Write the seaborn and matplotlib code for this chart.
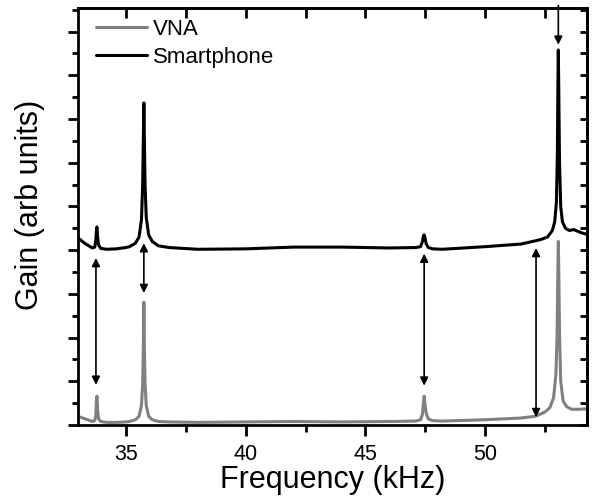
import numpy as np
import pandas as pd
import matplotlib
matplotlib.use('Agg')
import matplotlib.pyplot as plt
from matplotlib.ticker import MultipleLocator, NullFormatter
import seaborn as sns

# Frequency samples (kHz) and gains
vna_freq = [33.0, 33.3, 33.6, 33.7, 33.74, 33.77, 33.79, 33.82, 33.86, 33.95, 34.2, 34.6,
            35.0, 35.15, 35.4, 35.55, 35.65, 35.7, 35.73, 35.75, 35.77, 35.8, 35.85,
            35.95, 36.1, 36.35, 36.8, 38.0, 40.0, 42.0, 44.0, 46.0, 47.1, 47.3, 47.38,
            47.42, 47.45, 47.48, 47.53, 47.62, 47.8, 48.2, 50.0, 51.5, 52.1, 52.5, 52.7,
            52.85, 52.95, 53.0, 53.03, 53.05, 53.07, 53.1, 53.15, 53.25, 53.4, 53.6,
            53.9, 54.25]
vna_gain = [0.2, 0.14, 0.08, 0.1, 0.2, 0.55, 0.66, 0.35, 0.14, 0.08, 0.06, 0.06,
            0.07, 0.08, 0.12, 0.2, 0.45, 0.95, 1.85, 2.81, 1.85, 0.95, 0.45,
            0.2, 0.12, 0.08, 0.07, 0.06, 0.07, 0.08, 0.07, 0.08, 0.09, 0.12, 0.25,
            0.5, 0.66, 0.5, 0.28, 0.14, 0.1, 0.09, 0.12, 0.16, 0.2, 0.3, 0.4,
            0.62, 1.15, 2.1, 3.5, 4.2, 3.5, 2.1, 1.0, 0.55, 0.42, 0.36,
            0.36, 0.37]

phone_freq = [33.0, 33.3, 33.6, 33.7, 33.74, 33.77, 33.79, 33.82, 33.86, 33.95, 34.2, 34.6,
              35.0, 35.15, 35.4, 35.55, 35.65, 35.7, 35.73, 35.75, 35.77, 35.8, 35.85,
              35.95, 36.1, 36.35, 36.8, 38.0, 40.0, 42.0, 44.0, 46.0, 47.1, 47.3, 47.38,
              47.42, 47.45, 47.48, 47.53, 47.62, 47.8, 48.2, 50.0, 51.5, 52.3, 52.6, 52.8,
              52.9, 52.97, 53.01, 53.03, 53.05, 53.07, 53.1, 53.15, 53.22, 53.35, 53.5,
              53.7, 54.0, 54.25]
phone_gain = [4.28, 4.15, 4.05, 4.07, 4.2, 4.45, 4.53, 4.3, 4.12, 4.04, 4.02, 4.03,
              4.06, 4.08, 4.16, 4.3, 4.7, 5.5, 6.6, 7.37, 6.6, 5.5, 4.75,
              4.35, 4.2, 4.1, 4.06, 4.02, 4.03, 4.07, 4.07, 4.05, 4.06, 4.08, 4.2,
              4.33, 4.35, 4.3, 4.15, 4.06, 4.03, 4.02, 4.08, 4.14, 4.24, 4.3, 4.45,
              4.65, 5.1, 6.2, 7.6, 8.58, 7.6, 6.0, 5.0, 4.65, 4.5, 4.45,
              4.47, 4.4, 4.36]

# double arrows: (freq, top, bottom)
arrow_freq = [33.75, 35.75, 47.45, 52.12]
arrow_top = [3.82, 4.16, 3.92, 4.05]
arrow_bottom = [0.92, 3.02, 0.9, 0.18]

df = pd.concat([
    pd.DataFrame({'freq': vna_freq, 'gain': vna_gain, 'source': 'VNA'}),
    pd.DataFrame({'freq': phone_freq, 'gain': phone_gain, 'source': 'Smartphone'}),
])

sns.set_style('ticks')
plt.rcParams['font.family'] = ['Liberation Sans', 'DejaVu Sans']
plt.rcParams['axes.edgecolor'] = 'black'
plt.rcParams['xtick.color'] = 'black'
plt.rcParams['ytick.color'] = 'black'
plt.rcParams['text.color'] = 'black'
plt.rcParams['axes.labelcolor'] = 'black'

fig = plt.figure(figsize=(5.93, 5.0), dpi=100)
ax = fig.add_axes([0.1315, 0.15, 0.8585, 0.834])

sns.lineplot(data=df, x='freq', y='gain', hue='source',
             palette={'VNA': '#808080', 'Smartphone': '#000000'},
             linewidth=2.2, ax=ax, sort=True)

for f, t, b in zip(arrow_freq, arrow_top, arrow_bottom):
    ax.annotate('', xy=(f, b), xytext=(f, t),
                arrowprops=dict(arrowstyle='<|-|>', color='black', lw=1.2,
                                mutation_scale=12, shrinkA=0, shrinkB=0))
ax.annotate('', xy=(53.05, 8.7), xytext=(53.05, 9.6),
            arrowprops=dict(arrowstyle='-|>', color='black', lw=1.2,
                            mutation_scale=12, shrinkA=0, shrinkB=0))

ax.set_xlim(33.0, 54.25)
ax.set_ylim(0, 9.54)
ax.set_xlabel('Frequency (kHz)', fontsize=22, labelpad=0)
ax.set_ylabel('Gain (arb units)', fontsize=22)
ax.yaxis.set_label_coords(-0.065, 0.528)

ax.xaxis.set_major_locator(MultipleLocator(5))
ax.xaxis.set_minor_locator(MultipleLocator(2.5))
ax.yaxis.set_major_locator(MultipleLocator(1))
ax.yaxis.set_minor_locator(MultipleLocator(0.5))
ax.yaxis.set_major_formatter(NullFormatter())
ax.tick_params(axis='x', which='major', direction='out', length=8, width=2,
               labelsize=15.5, pad=6)
ax.tick_params(axis='x', which='minor', direction='out', length=5, width=2)
ax.tick_params(axis='y', which='major', direction='out', length=7, width=2)
ax.tick_params(axis='y', which='minor', direction='out', length=4, width=2)

top = ax.secondary_xaxis('top')
top.xaxis.set_major_locator(MultipleLocator(2.5))
top.xaxis.set_major_formatter(NullFormatter())
top.tick_params(direction='in', length=7, width=2)
right = ax.secondary_yaxis('right')
right.yaxis.set_major_locator(MultipleLocator(0.5))
right.yaxis.set_major_formatter(NullFormatter())
right.tick_params(direction='in', length=5, width=2)
for a in (top, right):
    for s in a.spines.values():
        s.set_linewidth(2)

for s in ax.spines.values():
    s.set_visible(True)
    s.set_linewidth(2)

leg = ax.legend(loc='upper left', frameon=False, fontsize=16, handlelength=2.3,
                handletextpad=0.27, borderaxespad=0, labelspacing=0.3,
                bbox_to_anchor=(0.018, 0.995))
for line in leg.get_lines():
    line.set_linewidth(2.2)

fig.savefig('out.png', dpi=100)
